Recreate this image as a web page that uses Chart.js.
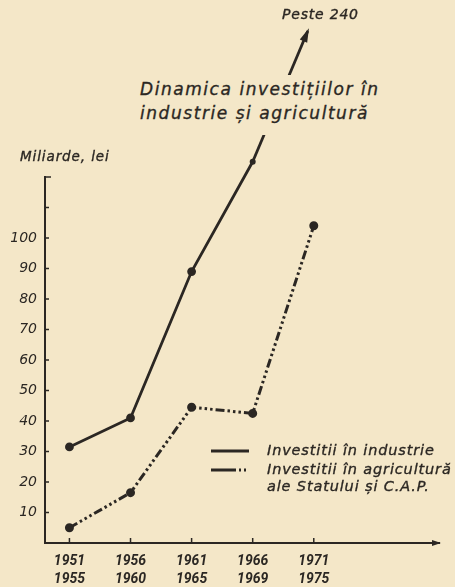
<!DOCTYPE html>
<html>
<head>
<meta charset="utf-8">
<script src="https://cdn.jsdelivr.net/npm/chart.js@4"></script>
<style>
  html, body { margin: 0; padding: 0; background: #f4e7c8; }
  body { width: 455px; height: 587px; position: relative; overflow: hidden; color: #2b2723; }
  #chart { position: absolute; left: 0; top: 0; }
  .txt { position: absolute; font-family: "DejaVu Sans", sans-serif; font-style: oblique; white-space: nowrap; -webkit-text-stroke: 0.35px #2b2723; }
  #title { left: 138px; top: 75px; font-size: 17px; line-height: 24px; letter-spacing: 1.55px; background: #f4e7c8; padding: 2px 4px 10px 2px; }
  #peste { left: 282px; top: 6px; font-size: 14px; letter-spacing: 0.8px; }
  #unit { left: 20px; top: 148px; font-size: 13.5px; letter-spacing: 0.9px; }
  #legend { left: 210px; top: 441px; font-size: 14.5px; line-height: 19px; letter-spacing: 0.85px; }
  #legend .row { display: flex; align-items: center; }
  #legend svg { margin-right: 17px; }
  #legend .indent { padding-left: 57px; margin-top: -2px; }
</style>
</head>
<body>
<canvas id="chart" width="455" height="587"></canvas>
<div class="txt" id="title">Dinamica investițiilor în<br>industrie și agricultură</div>
<div class="txt" id="peste">Peste 240</div>
<div class="txt" id="unit">Miliarde, lei</div>
<div class="txt" id="legend">
  <div class="row"><svg width="40" height="6"><line x1="1" y1="3" x2="39" y2="3" stroke="#2b2723" stroke-width="3"/></svg>Investitii în industrie</div>
  <div class="row"><svg width="40" height="6"><line x1="1" y1="3" x2="39" y2="3" stroke="#2b2723" stroke-width="3" stroke-dasharray="25 3 2 3 2 3 2 40"/></svg>Investitii în agricultură</div>
  <div class="indent">ale Statului și C.A.P.</div>
</div>
<script>
// periods on the x axis (two-line labels)
const periodStart = ['1951', '1956', '1961', '1966', '1971'];
const periodEnd = ['1955', '1960', '1965', '1969', '1975'];

// billions of lei
const industry = [31.5, 41, 89, 125];          // 1971-1975 is off the chart ("Peste 240")
const agriculture = [5, 16.5, 44.5, 42.5, 104];

const yTicks = [10, 20, 30, 40, 50, 60, 70, 80, 90, 100, 110, 120];
const yLabelled = [10, 20, 30, 40, 50, 60, 70, 80, 90, 100];

const INK = '#2b2723';

// small inward tick marks, x axis arrow, and the "over 240" arrow
const decorPlugin = {
  id: 'decor',
  afterDatasetsDraw(chart) {
    const ctx = chart.ctx;
    const x = chart.scales.x, y = chart.scales.y;
    const area = chart.chartArea;
    ctx.save();
    ctx.strokeStyle = INK;
    ctx.fillStyle = INK;
    ctx.lineWidth = 1.5;
    yTicks.forEach(v => {
      const py = y.getPixelForValue(v);
      ctx.beginPath();
      ctx.moveTo(area.left, py);
      ctx.lineTo(area.left + (v === 120 ? 6 : 4), py);
      ctx.stroke();
    });
    periodStart.forEach((p, i) => {
      const px = x.getPixelForValue(i);
      ctx.beginPath();
      ctx.moveTo(px, area.bottom);
      ctx.lineTo(px, area.bottom - 5);
      ctx.stroke();
    });
    // x axis arrow head
    ctx.beginPath();
    ctx.moveTo(area.right + 2, area.bottom);
    ctx.lineTo(area.right - 7, area.bottom - 3);
    ctx.lineTo(area.right - 7, area.bottom + 3);
    ctx.closePath();
    ctx.fill();

    // points above the chart area are skipped by Chart.js, draw them here
    chart.data.datasets.forEach((ds, di) => {
      chart.getDatasetMeta(di).data.forEach(pt => {
        if (pt.y < area.top) {
          ctx.beginPath();
          ctx.arc(pt.x, pt.y, ds.pointRadius, 0, Math.PI * 2);
          ctx.fill();
        }
      });
    });

    // industry line continues upward toward the 1971-1975 value
    const meta = chart.getDatasetMeta(0);
    const last = meta.data[meta.data.length - 1];
    const tx = x.getPixelForValue(industry.length) - 6;
    const ty = 31;
    ctx.lineWidth = 2.8;
    ctx.beginPath();
    ctx.moveTo(last.x, last.y);
    ctx.lineTo(tx, ty);
    ctx.stroke();
    const ang = Math.atan2(ty - last.y, tx - last.x);
    ctx.beginPath();
    ctx.moveTo(tx + Math.cos(ang) * 3, ty + Math.sin(ang) * 3);
    ctx.lineTo(tx - Math.cos(ang) * 11 + Math.sin(ang) * 4, ty - Math.sin(ang) * 11 - Math.cos(ang) * 4);
    ctx.lineTo(tx - Math.cos(ang) * 11 - Math.sin(ang) * 4, ty - Math.sin(ang) * 11 + Math.cos(ang) * 4);
    ctx.closePath();
    ctx.fill();
    ctx.restore();
  }
};

new Chart(document.getElementById('chart'), {
  type: 'line',
  data: {
    datasets: [
      {
        label: 'Investitii în industrie',
        data: industry.map((v, i) => ({ x: i, y: v })),
        borderColor: INK,
        backgroundColor: INK,
        borderWidth: 2.8,
        pointRadius: 3,
        tension: 0,
        clip: false
      },
      {
        label: 'Investitii în agricultură ale Statului și C.A.P.',
        data: agriculture.map((v, i) => ({ x: i, y: v })),
        borderColor: INK,
        backgroundColor: INK,
        borderWidth: 3,
        borderDash: [9, 3, 2.5, 3, 2.5, 3, 2.5, 3],
        pointRadius: 3,
        tension: 0,
        clip: false
      }
    ]
  },
  options: {
    responsive: false,
    animation: false,
    devicePixelRatio: 1,
    layout: { padding: { top: 177, right: 16, left: 0, bottom: 0 } },
    plugins: {
      legend: { display: false },
      tooltip: { enabled: false },
      title: { display: false }
    },
    scales: {
      x: {
        type: 'linear',
        min: -0.4,
        max: 6.05,
        afterBuildTicks: s => { s.ticks = periodStart.map((p, i) => ({ value: i })); },
        afterFit: s => { s.height = 44; },
        grid: { display: false, drawTicks: false },
        border: { display: true, color: INK, width: 2 },
        ticks: {
          color: INK,
          padding: 9,
          maxRotation: 0,
          font: { family: 'Roboto', style: 'italic', weight: 'bold', size: 14, lineHeight: 1.3 },
          callback: v => [periodStart[v], periodEnd[v]]
        }
      },
      y: {
        min: 0,
        max: 120,
        afterBuildTicks: s => { s.ticks = yTicks.map(v => ({ value: v })); },
        afterFit: s => { s.width = 45; },
        grid: { display: false, drawTicks: false },
        border: { display: true, color: INK, width: 2 },
        ticks: {
          color: INK,
          padding: 8,
          font: { family: 'DejaVu Sans', style: 'oblique', size: 14 },
          callback: v => yLabelled.includes(v) ? String(v) : ''
        }
      }
    }
  },
  plugins: [decorPlugin]
});
</script>
</body>
</html>
